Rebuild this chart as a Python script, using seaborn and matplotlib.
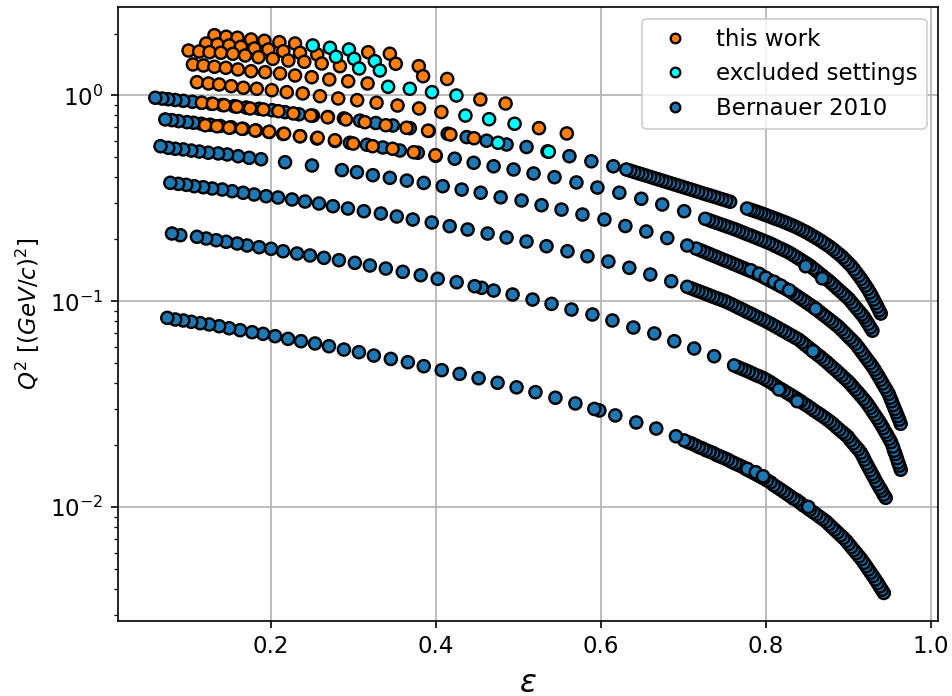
import numpy as np
import pandas as pd
import matplotlib
matplotlib.use("Agg")
import matplotlib.pyplot as plt
from matplotlib.lines import Line2D
import seaborn as sns

# ---------------------------------------------------------------------------
# Bernauer 2010 kinematics: one list pair per beam-energy band (epsilon, Q^2)
# ---------------------------------------------------------------------------
eps_b1 = [0.0601, 0.0686, 0.0758, 0.0843, 0.0940, 0.1049, 0.1158, 0.1279, 0.1412, 0.1557,
          0.1702, 0.1859, 0.2016, 0.2174, 0.2343, 0.2512, 0.2694, 0.2887, 0.3081, 0.3274,
          0.3480, 0.3686, 0.3916, 0.4145, 0.4375, 0.4617, 0.4859, 0.5101, 0.5355, 0.5621,
          0.5887, 0.6153,
          0.6311, 0.6359, 0.6407, 0.6456, 0.6504, 0.6553, 0.6601, 0.6650, 0.6698, 0.6746,
          0.6795, 0.6843, 0.6892, 0.6940, 0.6988, 0.7037, 0.7085, 0.7134, 0.7182, 0.7230,
          0.7279, 0.7327, 0.7376, 0.7424, 0.7472, 0.7521, 0.7569,
          0.7774, 0.7817, 0.7859, 0.7901, 0.7944, 0.7986, 0.8028, 0.8071, 0.8113, 0.8155,
          0.8198, 0.8240, 0.8282, 0.8325, 0.8367, 0.8409, 0.8452, 0.8494, 0.8536, 0.8579,
          0.8621, 0.8663, 0.8703, 0.8743, 0.8783, 0.8821, 0.8858, 0.8896, 0.8933, 0.8967,
          0.9001, 0.9036, 0.9070, 0.9099, 0.9128, 0.9157, 0.9184, 0.9210, 0.9237, 0.9263,
          0.9286, 0.9309, 0.9332, 0.9354, 0.9376, 0.9395]
q2_b1 = [0.975, 0.966, 0.959, 0.951, 0.942, 0.932, 0.922, 0.911, 0.899, 0.887,
         0.874, 0.862, 0.848, 0.830, 0.810, 0.798, 0.786, 0.774, 0.755, 0.735,
         0.715, 0.694, 0.673, 0.652, 0.628, 0.603, 0.578, 0.562, 0.535, 0.507,
         0.479, 0.453,
         0.4370, 0.4310, 0.4250, 0.4192, 0.4135, 0.4078, 0.4021, 0.3966, 0.3912, 0.3858,
         0.3804, 0.3752, 0.3701, 0.3650, 0.3599, 0.3550, 0.3501, 0.3453, 0.3404, 0.3357,
         0.3311, 0.3266, 0.3221, 0.3176, 0.3133, 0.3090, 0.3047,
         0.2824, 0.2787, 0.2751, 0.2716, 0.2678, 0.2639, 0.2601, 0.2563, 0.2525, 0.2489,
         0.2453, 0.2414, 0.2375, 0.2336, 0.2296, 0.2252, 0.2208, 0.2165, 0.2117, 0.2069,
         0.2023, 0.1974, 0.1926, 0.1880, 0.1834, 0.1784, 0.1734, 0.1686, 0.1636, 0.1585,
         0.1536, 0.1487, 0.1430, 0.1380, 0.1331, 0.1284, 0.1238, 0.1193, 0.1149, 0.1104,
         0.1061, 0.1020, 0.0980, 0.0941, 0.0904, 0.0872]

eps_b2 = [0.0722, 0.0803, 0.0883, 0.0985, 0.1064, 0.1158, 0.1266, 0.1387, 0.1521, 0.1666,
          0.1823, 0.1980, 0.2150, 0.2355, 0.2561, 0.2779, 0.2960, 0.3166, 0.3359, 0.3565,
          0.3783, 0.4000, 0.4230, 0.4460, 0.4702, 0.4944, 0.5186, 0.5440, 0.5706, 0.5960,
          0.6226, 0.6492, 0.6746, 0.7012,
          0.7267, 0.7312, 0.7358, 0.7403, 0.7449, 0.7495, 0.7541, 0.7587, 0.7632,
          0.7677, 0.7722, 0.7767, 0.7812, 0.7857, 0.7901, 0.7946, 0.7991, 0.8036,
          0.8079, 0.8123, 0.8166, 0.8210, 0.8253,
          0.8295, 0.8336, 0.8377, 0.8418, 0.8459, 0.8500,
          0.8538, 0.8575, 0.8613, 0.8651, 0.8689, 0.8726, 0.8764,
          0.8800, 0.8836, 0.8871, 0.8908, 0.8944, 0.8979,
          0.9010, 0.9042, 0.9072, 0.9104, 0.9135, 0.9165,
          0.9191, 0.9216, 0.9243, 0.9268, 0.9294]
q2_b2 = [0.765, 0.759, 0.751, 0.742, 0.737, 0.729, 0.721, 0.711, 0.701, 0.689,
         0.676, 0.665, 0.650, 0.634, 0.618, 0.601, 0.589, 0.576, 0.559, 0.5405,
         0.527, 0.509, 0.493, 0.471, 0.453, 0.437, 0.418, 0.401, 0.378, 0.357,
         0.337, 0.315, 0.2954, 0.274,
         0.2517, 0.2481, 0.2442, 0.2407, 0.2372, 0.2338, 0.2301, 0.2268, 0.2235,
         0.2198, 0.2162, 0.2125, 0.2093, 0.2058, 0.2023, 0.1990, 0.1956, 0.1926,
         0.1890, 0.1852, 0.1817, 0.1783, 0.1750,
         0.1715, 0.1675, 0.1636, 0.1598, 0.1559, 0.1523,
         0.1487, 0.1446, 0.1408, 0.1368, 0.1330, 0.1293, 0.1259,
         0.1222, 0.1186, 0.1151, 0.1117, 0.1084, 0.1053,
         0.1025, 0.0989, 0.0956, 0.0923, 0.0892, 0.0863,
         0.0838, 0.0808, 0.0777, 0.0747, 0.0720]

eps_b3 = [0.0664, 0.0758, 0.0843, 0.0940, 0.1037, 0.1133, 0.1242, 0.1363, 0.1472, 0.1605,
          0.1738, 0.1883, 0.2174, 0.2500, 0.2863, 0.3045, 0.3238, 0.3444, 0.3650, 0.3855,
          0.4085, 0.4315, 0.4545, 0.4787, 0.5041, 0.5283, 0.5525, 0.5779, 0.6045, 0.6299,
          0.6553, 0.6807, 0.7049,
          0.7156, 0.7202, 0.7247, 0.7292, 0.7336, 0.7381, 0.7426, 0.7471, 0.7516,
          0.7560, 0.7605, 0.7650, 0.7695, 0.7739, 0.7784, 0.7829, 0.7874, 0.7918,
          0.7961, 0.8003, 0.8046, 0.8089, 0.8131, 0.8175, 0.8217, 0.8259,
          0.8299, 0.8339, 0.8379, 0.8419, 0.8459, 0.8499, 0.8539, 0.8579,
          0.8618, 0.8655, 0.8694, 0.8731, 0.8770, 0.8807, 0.8846, 0.8883,
          0.8917, 0.8952, 0.8986, 0.9020, 0.9054, 0.9089,
          0.9122, 0.9151, 0.9179, 0.9208, 0.9237, 0.9266, 0.9295,
          0.9320, 0.9344, 0.9370, 0.9394, 0.9418, 0.9444, 0.9468, 0.9492,
          0.9510, 0.9528, 0.9546, 0.9565, 0.9582, 0.9600, 0.9618, 0.9636]
q2_b3 = [0.567, 0.557, 0.551, 0.547, 0.540, 0.534, 0.527, 0.523, 0.517, 0.507,
         0.498, 0.490, 0.474, 0.457, 0.434, 0.424, 0.410, 0.398, 0.386, 0.376,
         0.3625, 0.349, 0.337, 0.320, 0.309, 0.293, 0.279, 0.264, 0.2497, 0.2322,
         0.2184, 0.2030, 0.1867,
         0.1805, 0.1775, 0.1746, 0.1715, 0.1686, 0.1658, 0.1630, 0.1601, 0.1575,
         0.1550, 0.1523, 0.1497, 0.1471, 0.1446, 0.1421, 0.1397, 0.1372, 0.1348,
         0.1321, 0.1293, 0.1266, 0.1241, 0.1215, 0.1189, 0.1165, 0.1141,
         0.1116, 0.1089, 0.1062, 0.1035, 0.1010, 0.0985, 0.0960, 0.0936,
         0.0912, 0.0887, 0.0863, 0.0840, 0.0817, 0.0795, 0.0773, 0.0752,
         0.0729, 0.0706, 0.0684, 0.0663, 0.0643, 0.0622,
         0.0598, 0.0577, 0.0557, 0.0537, 0.0518, 0.0500, 0.0482,
         0.0465, 0.0448, 0.0431, 0.0415, 0.0399, 0.0383, 0.0369, 0.0355,
         0.0340, 0.0327, 0.0313, 0.0300, 0.0289, 0.0277, 0.0266, 0.0254]

eps_b4 = [0.0783, 0.0879, 0.0976, 0.1073, 0.1182, 0.1291, 0.1412, 0.1533, 0.1666, 0.1799,
          0.1944, 0.2089, 0.2258, 0.2416, 0.2585, 0.2754, 0.2936, 0.3129, 0.3335, 0.3528,
          0.3722, 0.3952, 0.4169, 0.4387, 0.4629, 0.4859, 0.5101, 0.5343, 0.5597, 0.5839,
          0.6093, 0.6347, 0.6601, 0.6855,
          0.7049, 0.7093, 0.7139, 0.7184, 0.7230, 0.7275, 0.7319, 0.7365, 0.7410, 0.7455, 0.7501,
          0.7544, 0.7588, 0.7632, 0.7675, 0.7719, 0.7762, 0.7806, 0.7849, 0.7893, 0.7936, 0.7980,
          0.8022, 0.8065, 0.8107, 0.8149, 0.8192, 0.8234, 0.8276, 0.8319, 0.8361, 0.8403,
          0.8441, 0.8478, 0.8517, 0.8554, 0.8592, 0.8630, 0.8667, 0.8706,
          0.8742, 0.8778, 0.8813, 0.8850, 0.8886, 0.8921, 0.8957, 0.8994,
          0.9025, 0.9057, 0.9088, 0.9121, 0.9152, 0.9184, 0.9215,
          0.9242, 0.9268, 0.9295, 0.9323, 0.9349, 0.9376,
          0.9402, 0.9425, 0.9450, 0.9473, 0.9497, 0.9520,
          0.9542, 0.9557, 0.9573, 0.9590, 0.9606, 0.9621, 0.9637]
q2_b4 = [0.3764, 0.3722, 0.3681, 0.3624, 0.3584, 0.3532, 0.3493, 0.3428, 0.3367, 0.3304,
         0.3241, 0.3194, 0.3124, 0.3054, 0.2986, 0.2898, 0.2824, 0.2740, 0.2671, 0.2583,
         0.2497, 0.2415, 0.2317, 0.2233, 0.2135, 0.2042, 0.1952, 0.1852, 0.1751, 0.1656,
         0.1561, 0.1455, 0.1350, 0.1252,
         0.1176, 0.1158, 0.1139, 0.1121, 0.1104, 0.1086, 0.1069, 0.1051, 0.1035, 0.1019, 0.1003,
         0.0986, 0.0967, 0.0948, 0.0929, 0.0912, 0.0893, 0.0876, 0.0859, 0.0842, 0.0825, 0.0809,
         0.0793, 0.0776, 0.0759, 0.0743, 0.0726, 0.0711, 0.0695, 0.0680, 0.0665, 0.0651,
         0.0633, 0.0615, 0.0598, 0.0582, 0.0566, 0.0550, 0.0536, 0.0520,
         0.0506, 0.0491, 0.0477, 0.0463, 0.0449, 0.0436, 0.0423, 0.0410,
         0.0398, 0.0385, 0.0372, 0.0360, 0.0348, 0.0336, 0.0325,
         0.0314, 0.0303, 0.0292, 0.0281, 0.0271, 0.0261,
         0.0251, 0.0242, 0.0232, 0.0224, 0.0215, 0.0207,
         0.0197, 0.0188, 0.0181, 0.0173, 0.0165, 0.0159, 0.0152]

eps_b5 = [0.0803, 0.0904, 0.1106, 0.1218, 0.1339, 0.1460, 0.1593, 0.1714, 0.1859, 0.2004,
          0.2150, 0.2319, 0.2476, 0.2645, 0.2827, 0.3020, 0.3202, 0.3395, 0.3601, 0.3818,
          0.4024, 0.4254, 0.4472, 0.4557, 0.4702, 0.4932, 0.5174, 0.5404, 0.5646, 0.5900,
          0.6142, 0.6396, 0.6650, 0.6892, 0.7133, 0.7375,
          0.7617, 0.7662, 0.7705, 0.7750, 0.7795, 0.7840, 0.7883, 0.7928, 0.7973,
          0.8014, 0.8055, 0.8096, 0.8137, 0.8178, 0.8219, 0.8261, 0.8302, 0.8343, 0.8384,
          0.8425, 0.8465, 0.8505, 0.8545, 0.8585, 0.8625, 0.8665, 0.8705, 0.8744,
          0.8783, 0.8819, 0.8857, 0.8893, 0.8931, 0.8967,
          0.8999, 0.9029, 0.9060, 0.9092, 0.9122, 0.9153,
          0.9176, 0.9198, 0.9221, 0.9243, 0.9266, 0.9289, 0.9311,
          0.9335, 0.9359, 0.9383, 0.9406, 0.9430, 0.9455]
q2_b5 = [0.2135, 0.2095, 0.2058, 0.2019, 0.1981, 0.1946, 0.1909, 0.1867, 0.1832, 0.1799,
         0.1751, 0.1707, 0.1670, 0.1627, 0.1584, 0.1538, 0.1493, 0.1443, 0.1391, 0.1339,
         0.1286, 0.1238, 0.1184, 0.1163, 0.1128, 0.1079, 0.1020, 0.0972, 0.0912, 0.0863,
         0.0807, 0.0746, 0.0698, 0.0640, 0.0590, 0.0541,
         0.0488, 0.0479, 0.0471, 0.0463, 0.0455, 0.0446, 0.0438, 0.0431, 0.0423,
         0.0414, 0.0405, 0.0395, 0.0385, 0.0376, 0.0368, 0.0359, 0.0351, 0.0343, 0.0335,
         0.0327, 0.0318, 0.0311, 0.0303, 0.0295, 0.0288, 0.0281, 0.0274, 0.0267,
         0.0260, 0.0253, 0.0245, 0.0238, 0.0231, 0.0225,
         0.0219, 0.0211, 0.0204, 0.0197, 0.0191, 0.0184,
         0.0177, 0.0170, 0.0163, 0.0157, 0.0151, 0.0145, 0.0140,
         0.0134, 0.0129, 0.0124, 0.0120, 0.0115, 0.0111]

eps_b6 = [0.0746, 0.0843, 0.0940, 0.1037, 0.1146, 0.1254, 0.1375, 0.1496, 0.1629, 0.1775,
          0.1908, 0.2053, 0.2210, 0.2367, 0.2537, 0.2706, 0.2887, 0.3069, 0.3250, 0.3456,
          0.3662, 0.3855, 0.4073, 0.4290, 0.4520, 0.4750, 0.4980, 0.5209, 0.5451, 0.5693,
          0.5923, 0.5984, 0.6177, 0.6431, 0.6673, 0.6912,
          0.7012, 0.7057, 0.7101, 0.7145, 0.7189, 0.7234, 0.7277, 0.7322, 0.7365, 0.7410,
          0.7454, 0.7498, 0.7542, 0.7587, 0.7630, 0.7675,
          0.7720, 0.7762, 0.7805, 0.7847, 0.7889, 0.7932, 0.7974, 0.8016,
          0.8059, 0.8098, 0.8138, 0.8178, 0.8218, 0.8258, 0.8298, 0.8338, 0.8378,
          0.8418, 0.8457, 0.8496, 0.8535, 0.8575, 0.8614, 0.8654, 0.8692, 0.8731,
          0.8766, 0.8801, 0.8836, 0.8871, 0.8907, 0.8942,
          0.8977, 0.9007, 0.9038, 0.9069, 0.9099, 0.9130, 0.9161,
          0.9191, 0.9219, 0.9246, 0.9273, 0.9301, 0.9329,
          0.9357, 0.9382, 0.9407, 0.9432]
q2_b6 = [0.0831, 0.0816, 0.0807, 0.0795, 0.0783, 0.0772, 0.0757, 0.0740, 0.0724, 0.0708,
         0.0695, 0.0677, 0.0657, 0.0640, 0.0624, 0.0605, 0.0583, 0.0566, 0.0545, 0.0525,
         0.0506, 0.0484, 0.0463, 0.0444, 0.0423, 0.0402, 0.0382, 0.0362, 0.0340, 0.0319,
         0.0300, 0.0295, 0.0279, 0.0258, 0.0241, 0.0221,
         0.0211, 0.0207, 0.0204, 0.0200, 0.0196, 0.0193, 0.0189, 0.0186, 0.0183, 0.0179,
         0.0176, 0.0173, 0.0170, 0.0166, 0.0163, 0.0160,
         0.0157, 0.0153, 0.0150, 0.0147, 0.0144, 0.0141, 0.0138, 0.0135,
         0.0132, 0.0128, 0.0125, 0.0122, 0.0119, 0.0116, 0.0113, 0.0110, 0.0108,
         0.0105, 0.0102, 0.00997, 0.00970, 0.00946, 0.00922, 0.00897, 0.00875, 0.00852,
         0.00826, 0.00801, 0.00777, 0.00754, 0.00730, 0.00709,
         0.00686, 0.00663, 0.00640, 0.00618, 0.00598, 0.00577, 0.00558,
         0.00536, 0.00517, 0.00498, 0.00480, 0.00463, 0.00445,
         0.00428, 0.00412, 0.00397, 0.00383]

# Bernauer settings taken with a second spectrometer (drawn above the scans)
eps_b_top = [0.7778, 0.7880, 0.7968, 0.8516, 0.8161, 0.8383, 0.8573,
             0.7819, 0.7920, 0.8001, 0.8101, 0.8182, 0.8283, 0.8605, 0.8484, 0.8685]
q2_b_top = [0.01535, 0.01478, 0.01413, 0.01003, 0.0373, 0.0327, 0.0572,
            0.1416, 0.1361, 0.1301, 0.1244, 0.1193, 0.1132, 0.0919, 0.1481, 0.1293]

# ---------------------------------------------------------------------------
# New measurement: accepted settings
# ---------------------------------------------------------------------------
eps_new = [0.1318, 0.1460, 0.1597, 0.1762, 0.1923, 0.2105, 0.2295, 0.3181, 0.3444,
           0.1218, 0.1355, 0.1496, 0.1638, 0.1802, 0.1972, 0.2153, 0.2355, 0.2564, 0.3516, 0.3795,
           0.1004, 0.1133, 0.1258, 0.1396, 0.1541, 0.1690, 0.1851, 0.2025, 0.2214, 0.2407,
           0.2618, 0.2839, 0.3847, 0.4139,
           0.1057, 0.1185, 0.1318, 0.1456, 0.1602, 0.1762, 0.1932, 0.2113, 0.2295, 0.2497,
           0.2710, 0.2939, 0.3174, 0.4541, 0.4847,
           0.1106, 0.1246, 0.1375, 0.1521, 0.1669, 0.1831, 0.2013, 0.2194, 0.2388, 0.2597,
           0.2818, 0.3048, 0.3283, 0.3537, 0.3798, 0.4069, 0.5252, 0.5589,
           0.1166, 0.1299, 0.1436, 0.1589, 0.1750, 0.1911, 0.2093, 0.2274, 0.2485, 0.2690,
           0.2912, 0.3141, 0.3395, 0.3646, 0.3907, 0.4178, 0.4464,
           0.1206, 0.1348, 0.1496, 0.1650, 0.1811, 0.1980, 0.2162, 0.2355, 0.2569, 0.2779,
           0.3000, 0.3235, 0.3477, 0.3734, 0.3997]
q2_new = [1.963, 1.929, 1.908, 1.871, 1.844, 1.816, 1.789, 1.623, 1.595,
          1.789, 1.769, 1.750, 1.724, 1.692, 1.673, 1.641, 1.612, 1.582, 1.426, 1.388,
          1.654, 1.636, 1.623, 1.612, 1.595, 1.564, 1.535, 1.507, 1.479, 1.458,
          1.430, 1.388, 1.241, 1.203,
          1.415, 1.399, 1.379, 1.363, 1.338, 1.312, 1.298, 1.279, 1.251, 1.227,
          1.196, 1.173, 1.144, 0.956, 0.914,
          1.160, 1.144, 1.131, 1.110, 1.090, 1.078, 1.061, 1.038, 1.023, 0.992,
          0.967, 0.949, 0.922, 0.894, 0.865, 0.831, 0.694, 0.654,
          0.922, 0.911, 0.897, 0.882, 0.865, 0.855, 0.839, 0.818, 0.799, 0.784,
          0.765, 0.742, 0.717, 0.697, 0.674, 0.646, 0.620,
          0.717, 0.709, 0.697, 0.689, 0.676, 0.666, 0.652, 0.634, 0.623, 0.606,
          0.584, 0.567, 0.551, 0.530, 0.513]

# New measurement: settings left out of the analysis
eps_excl = [0.2509, 0.2718, 0.2948, 0.2791, 0.3012, 0.3262, 0.3072, 0.3323,
            0.3423, 0.3686, 0.3955, 0.4251, 0.4360, 0.4647, 0.4956, 0.4756, 0.5371]
q2_excl = [1.750, 1.705, 1.673, 1.542, 1.507, 1.468, 1.353, 1.323,
           1.102, 1.078, 1.038, 1.000, 0.799, 0.767, 0.729, 0.589, 0.533]

labels = ["this work", "excluded settings", "Bernauer 2010"]
colors = {"this work": "#ff7f0e", "excluded settings": "#00ffff", "Bernauer 2010": "#1f77b4"}

# ---------------------------------------------------------------------------
# Assemble one long table; the row order is the drawing order
# (each scan from high to low epsilon, then the overlays on top)
# ---------------------------------------------------------------------------
bands = [(eps_b1, q2_b1), (eps_b2, q2_b2), (eps_b3, q2_b3),
         (eps_b4, q2_b4), (eps_b5, q2_b5), (eps_b6, q2_b6)]
frames = []
for e, q in bands:
    frames.append(pd.DataFrame({"eps": e[::-1], "q2": q[::-1], "source": "Bernauer 2010"}))
frames.append(pd.DataFrame({"eps": eps_b_top, "q2": q2_b_top, "source": "Bernauer 2010"}))
frames.append(pd.DataFrame({"eps": eps_new, "q2": q2_new, "source": "this work"}))
frames.append(pd.DataFrame({"eps": eps_excl, "q2": q2_excl, "source": "excluded settings"}))
df = pd.concat(frames, ignore_index=True)

plt.rcParams["font.size"] = 11
fig = plt.figure(figsize=(952 / 150, 696 / 150), dpi=150)
ax = fig.add_axes([0.124, 0.108, 0.8613, 0.8815])

sns.scatterplot(data=df, x="eps", y="q2", hue="source", palette=colors,
                s=34, edgecolor="black", linewidth=1.15, legend=False, ax=ax)

ax.set_yscale("log")
ax.grid(True, which="major", color="#b0b0b0", linewidth=0.8)
ax.set_axisbelow(True)
ax.set_xlabel(r"$\varepsilon$", fontsize=15, labelpad=5)
ax.set_ylabel(r"$Q^2\ [(GeV/c)^2]$")

handles = [Line2D([], [], marker="o", linestyle="none", markersize=4.6,
                  markerfacecolor=colors[k], markeredgecolor="black",
                  markeredgewidth=1.1) for k in labels]
ax.legend(handles, labels, loc="upper right")

fig.savefig("out.png", dpi=150)
